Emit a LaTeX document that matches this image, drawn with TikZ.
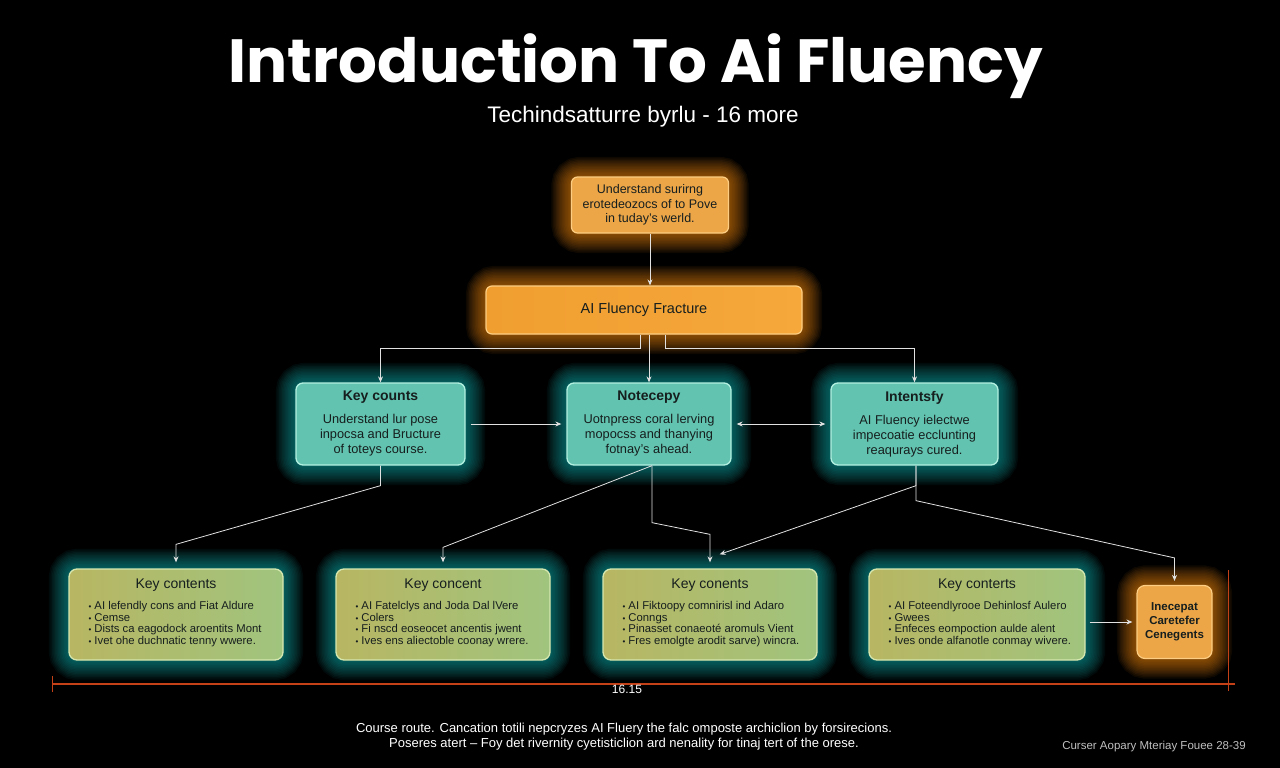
\documentclass[tikz,border=0pt]{standalone}
\usepackage{fontspec}
\setmainfont{Liberation Sans}
\newfontfamily\titlefont{Poppins}
\usetikzlibrary{arrows.meta,backgrounds}
\definecolor{boxtext}{RGB}{22,30,30}
\definecolor{orfill}{RGB}{236,166,72}
\definecolor{orline}{RGB}{252,205,130}
\definecolor{orbarL}{RGB}{240,158,48}
\definecolor{orbarR}{RGB}{246,168,58}
\definecolor{tealfill}{RGB}{98,196,176}
\definecolor{tealline}{RGB}{178,240,224}
\definecolor{oliveL}{RGB}{184,182,98}
\definecolor{oliveR}{RGB}{160,196,126}
\definecolor{oliveline}{RGB}{214,232,176}
\definecolor{glowteal}{RGB}{20,170,170}
\definecolor{gloworange}{RGB}{245,140,20}
\definecolor{conn}{RGB}{225,225,225}
\definecolor{dimline}{RGB}{196,64,22}
\newcommand{\setfs}[2]{\fontsize{#1}{#2}\selectfont}
\newcommand{\bul}{{\setfs{8}{8}•}\ }
\newcommand{\glowbox}[2]{%
  \foreach \w in {3,6,...,39}
    \draw[#2,line width=\w pt,opacity=0.06,rounded corners=9pt] (#1.south west) rectangle (#1.north east);}
\tikzset{
  orbox/.style={draw=orline,line width=1.2pt,rounded corners=6pt,fill=orfill,text=boxtext,align=center,inner sep=0pt},
  midbox/.style={draw=tealline,line width=1.3pt,rounded corners=7pt,fill=tealfill,text=boxtext,align=center,
    minimum height=82pt,inner sep=0pt,font=\setfs{12.8}{15}},
  keybox/.style={draw=oliveline,line width=1.3pt,rounded corners=8pt,left color=oliveL,right color=oliveR,
    minimum width=214pt,minimum height=91pt,inner sep=0pt},
  keyhead/.style={text=boxtext,font=\setfs{14}{16}},
  bullets/.style={text=boxtext,align=left,inner sep=0pt,font=\setfs{11.3}{11.6}},
  conline/.style={conn,line width=0.8pt},
  tip/.style={-{Stealth[length=6pt,width=5pt]}},
  whitetext/.style={text=white,align=center},
}

\begin{document}
\begin{tikzpicture}[x=1pt,y=1pt]
  \useasboundingbox (0,0) rectangle (1280,-768);
  % titles
  \node[text=white] (title) at (636,-66) {\titlefont\bfseries\setfs{61}{64}Introduction To Ai Fluency};
  \node[text=white] (sub) at (643,-117) {\setfs{22.5}{26}Techindsatturre byrlu - 16 more};
  % top of the tree
  \node[orbox,minimum width=157pt,minimum height=56pt,font=\setfs{12.5}{14.5}] (top) at (650,-205)
    {Understand surirng\\erotedeozocs of to Pove\\in tuday's werld.};
  \node[orbox,minimum width=316pt,minimum height=48pt,left color=orbarL,right color=orbarR,font=\setfs{14.5}{16}] (frame) at (644,-310)
    {AI Fluency Fracture};
  % middle row
  \node[midbox,minimum width=169pt] (kc) at (380.5,-424)
    {{\setfs{14}{16}\bfseries Key counts}\\[8pt]Understand lur pose\\inpocsa and Bructure\\of toteys course.};
  \node[midbox,minimum width=164pt] (nt) at (649,-424)
    {{\setfs{14}{16}\bfseries Notecepy}\\[8pt]Uotnpress coral lerving\\mopocss and thanying\\fotnay's ahead.};
  \node[midbox,minimum width=167pt] (it) at (914.5,-424)
    {{\setfs{14}{16}\bfseries Intentsfy}\\[8pt]AI Fluency ielectwe\\impecoatie ecclunting\\reaqurays cured.};
  % bottom row
  \node[keybox] (b1) at (176,-614.5) {};
  \node[keybox] (b2) at (443,-614.5) {};
  \node[keybox] (b3) at (710,-614.5) {};
  \node[keybox,minimum width=216pt] (b4) at (977,-614.5) {};
  \node[keyhead] (b1h) at ([yshift=-17pt]b1.north) {Key contents};
  \node[keyhead] (b2h) at ([yshift=-17pt]b2.north) {Key concent};
  \node[keyhead] (b3h) at ([yshift=-17pt]b3.north) {Key conents};
  \node[keyhead] (b4h) at ([yshift=-17pt]b4.north) {Key conterts};
  \node[bullets,anchor=north west] (b1t) at ([xshift=20pt,yshift=-33pt]b1.north west)
    {\bul AI lefendly cons and Fiat Aldure\\\bul Cemse\\\bul Dists ca eagodock aroentits Mont\\\bul Ivet ohe duchnatic tenny wwere.};
  \node[bullets,anchor=north west] (b2t) at ([xshift=20pt,yshift=-33pt]b2.north west)
    {\bul AI Fatelclys and Joda Dal lVere\\\bul Colers\\\bul Fi nscd eoseocet ancentis jwent\\\bul Ives ens aliectoble coonay wrere.};
  \node[bullets,anchor=north west] (b3t) at ([xshift=20pt,yshift=-33pt]b3.north west)
    {\bul AI Fiktoopy comnirisl ind Adaro\\\bul Conngs\\\bul Pinasset conaeot\'e aromuls Vient\\\bul Fres emolgte arodit sarve) wincra.};
  \node[bullets,anchor=north west] (b4t) at ([xshift=20pt,yshift=-33pt]b4.north west)
    {\bul AI Foteendlyrooe Dehinlosf Aulero\\\bul Gwees\\\bul Enfeces eompoction aulde alent\\\bul Ives onde alfanotle conmay wivere.};
  \node[orbox,minimum width=75pt,minimum height=73pt,rounded corners=8pt,fill=orfill,font=\setfs{11.5}{14}\bfseries] (ob) at (1174.5,-622)
    {Inecepat\\Caretefer\\Cenegents};
  % connectors
  \draw[conline,tip] (top.south) -- (top.south |- frame.north);
  \draw[conline,tip] ([xshift=-4pt]frame.south) -- ++(0,-14) -| (kc.north);
  \draw[conline,tip] (nt.north |- frame.south) -- (nt.north);
  \draw[conline,tip] ([xshift=21pt]frame.south) -- ++(0,-14) -| (it.north);
  \draw[conline,tip,shorten <=5pt,shorten >=5pt] (kc.east) -- (nt.west);
  \draw[conline,{Stealth[length=6pt,width=5pt]}-{Stealth[length=6pt,width=5pt]},shorten <=5pt,shorten >=5pt] (nt.east) -- (it.west);
  \draw[conline,tip,shorten >=6pt] (kc.south) -- ++(0,-20) -- ([yshift=24pt]b1.north) -- (b1.north);
  \draw[conline,tip,shorten >=6pt] ([xshift=3pt]nt.south) -- ([yshift=21pt]b2.north) -- (b2.north);
  \draw[conline,tip,shorten >=6pt] ([xshift=3pt]nt.south) -- ++(0,-57) -- ([yshift=34pt]b3.north) -- (b3.north);
  \draw[conline,tip,shorten >=6pt] ([xshift=1.5pt]it.south) -- ++(0,-20) -- ([xshift=4pt,yshift=12pt]b3.north);
  \draw[conline,tip,shorten >=4pt] ([xshift=1.5pt]it.south) -- ++(0,-35) -- ([yshift=27pt]ob.north) -- (ob.north);
  \draw[conline,tip,shorten <=4pt,shorten >=4pt] (b4.east |- ob.west) -- (ob.west);
  % dimension line
  \draw[dimline,line width=1.6pt] (52,-684) -- (1235,-684);
  \draw[dimline,line width=1pt] (52,-676) -- (52,-692);
  \draw[dimline,line width=1pt] (1228,-570) -- (1228,-691);
  \node[text=white,font=\setfs{12}{13}] (dim) at (627,-689) {16.15};
  % footer
  \node[whitetext,font=\setfs{13}{15}] (foot) at (624,-737)
    {Course route. Cancation totili nepcryzes AI Fluery the falc omposte archiclion by forsirecions.\\
     Poseres atert -- Foy det rivernity cyetisticlion ard nenality for tinaj tert of the orese.};
  \node[text=white!75!black,font=\setfs{11.5}{12}] (corner) at (1154,-747) {Curser Aopary Mteriay Fouee 28-39};
  % glow and background
  \begin{scope}[on background layer]
    \fill[black] (0,0) rectangle (1280,-768);
    \glowbox{top}{gloworange}
    \glowbox{frame}{gloworange}
    \glowbox{ob}{gloworange}
    \glowbox{kc}{glowteal}
    \glowbox{nt}{glowteal}
    \glowbox{it}{glowteal}
    \glowbox{b1}{glowteal}
    \glowbox{b2}{glowteal}
    \glowbox{b3}{glowteal}
    \glowbox{b4}{glowteal}
  \end{scope}
\end{tikzpicture}
\end{document}
